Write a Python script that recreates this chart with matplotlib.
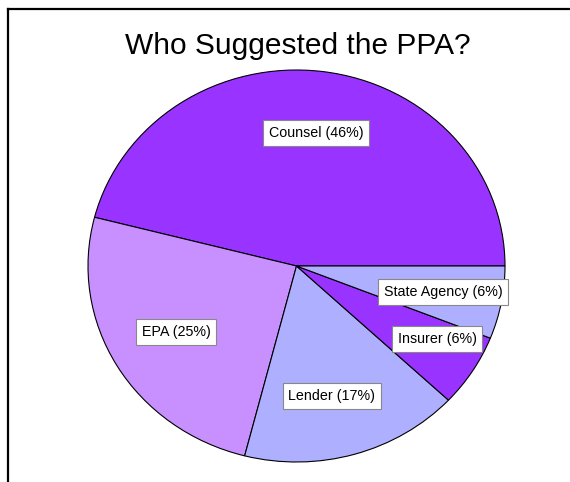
import matplotlib
matplotlib.use('Agg')
import matplotlib.pyplot as plt
from matplotlib.lines import Line2D

plt.rcParams['font.family'] = ['Liberation Sans', 'DejaVu Sans']

# datos
categorias = ['Counsel', 'EPA', 'Lender', 'Insurer', 'State Agency']
porcentajes = [46, 25, 17, 6, 6]
colores = ['#9933FF', '#C890FF', '#AEB0FF', '#9933FF', '#AEB0FF']

# posiciones de etiquetas (pixeles de la figura)
pos_etiquetas = [(316, 133), (176, 332), (332, 396), (437, 339), (443, 292)]

W, H = 570, 482
fig = plt.figure(figsize=(W / 100, H / 100), dpi=100)

# pie eliptico: ejes en la caja del pie, aspecto libre
ax = fig.add_axes([88 / W, 1 - 462 / H, 417 / W, 392 / H])
ax.pie(porcentajes, colors=colores, startangle=0, counterclock=True,
       wedgeprops=dict(edgecolor='black', linewidth=0.8))
ax.set_aspect('auto')
ax.set_xlim(-1, 1)
ax.set_ylim(-1, 1)
ax.axis('off')

for cat, pct, (px, py) in zip(categorias, porcentajes, pos_etiquetas):
    fig.text(px / W, 1 - py / H, f'{cat} ({pct}%)', ha='center', va='center',
             fontsize=10.3,
             bbox=dict(boxstyle='square,pad=0.4', facecolor='white',
                       edgecolor='#888888', linewidth=0.8))

fig.text(298 / W, 1 - 46 / H, 'Who Suggested the PPA?', ha='center', va='center',
         fontsize=21.5)

# marco superior e izquierdo
fig.add_artist(Line2D([8 / W, 1], [1 - 9 / H, 1 - 9 / H], color='black',
                      linewidth=1.6, transform=fig.transFigure))
fig.add_artist(Line2D([8 / W, 8 / W], [0, 1 - 9 / H], color='black',
                      linewidth=1.6, transform=fig.transFigure))

plt.savefig('out.png', dpi=100)
